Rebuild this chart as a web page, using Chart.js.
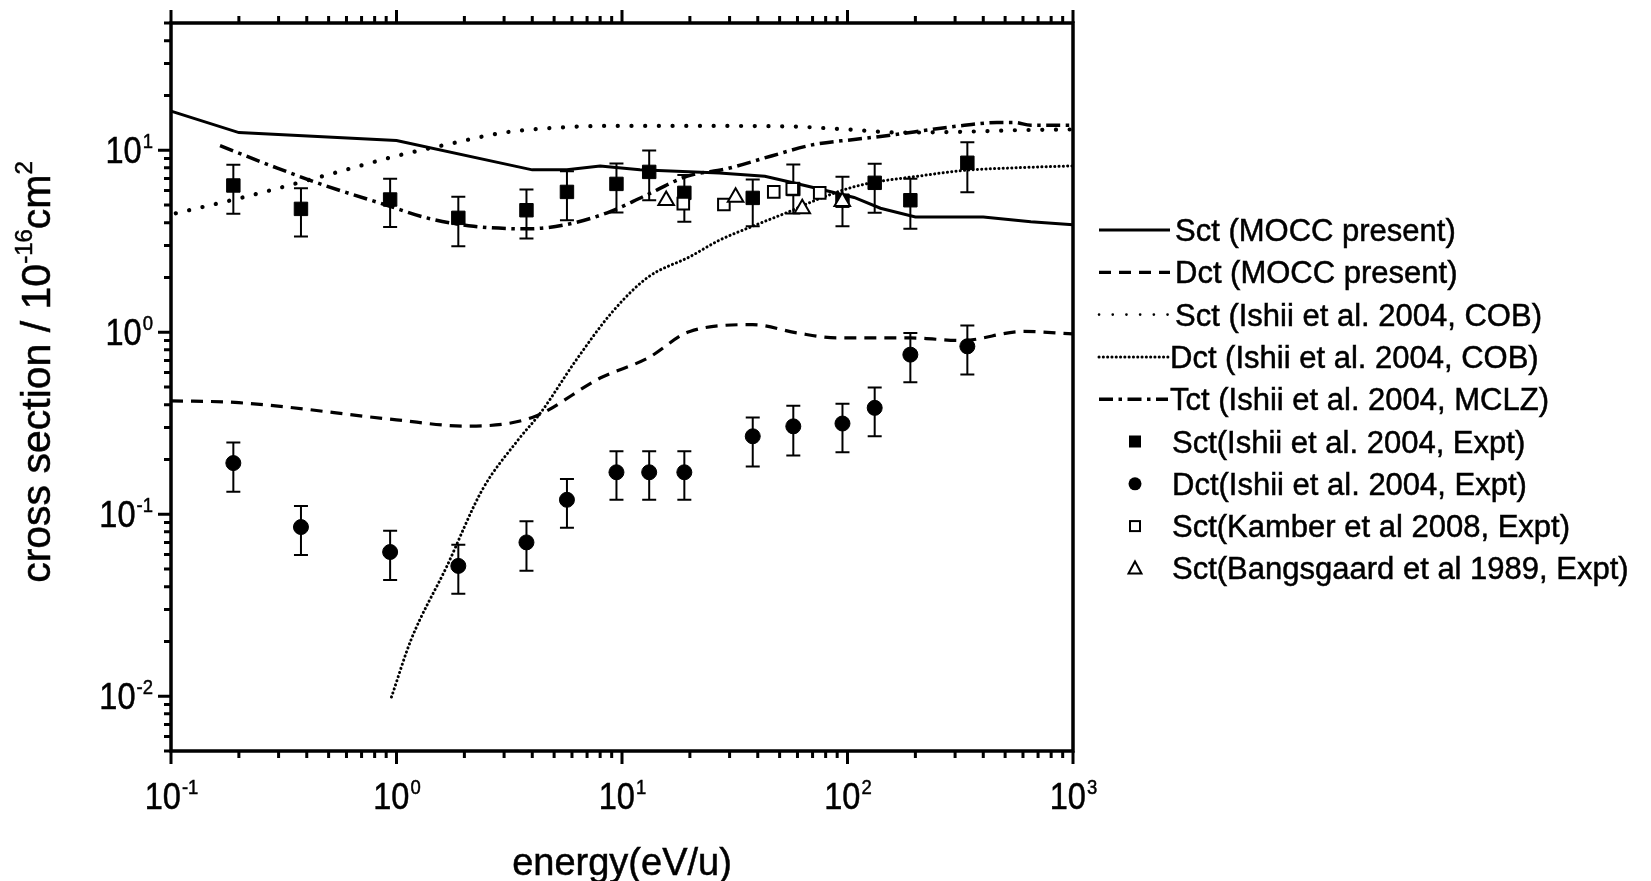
<!DOCTYPE html>
<html>
<head>
<meta charset="utf-8">
<script src="https://cdn.jsdelivr.net/npm/chart.js@4.4.0/dist/chart.umd.min.js"></script>
<style>
body{margin:0;background:#fff}
canvas{display:block}
</style>
</head>
<body>
<canvas id="chart" width="1651" height="881"></canvas>
<script>
// energy in eV/u, cross sections in 1e-16 cm^2
const moccSctE=[0.1,0.2,1.0,4.0,5.7,8.0,12,27,43,58,76,107,140,200,400,650,1000]
const moccSct=[16.4,12.5,11.3,7.8,7.8,8.2,7.8,7.5,7.2,6.6,6.1,5.5,4.8,4.3,4.3,4.05,3.9]

const moccDctE=[0.1,0.2,1.0,2.0,4.0,8.0,13,20,38,60,90,190,320,600,1000]
const moccDct=[0.42,0.41,0.33,0.305,0.34,0.56,0.72,1.01,1.10,0.99,0.93,0.93,0.90,1.01,0.98]

const cobSctE=[0.105,0.22,0.5,1.0,1.7,3.0,5.2,9,20,55,100,170,300,600,1000]
const cobSct=[4.5,5.6,7.35,9.3,10.8,12.5,13.3,13.6,13.6,13.5,13.0,12.5,12.6,12.9,13.0]

const cobDctE=[0.95,1.16,1.67,2.4,3.47,4.35,6.25,9.0,13,20,27,38.5,54,76,107,140,197,330,550,1000]
const cobDct=[0.0099,0.0204,0.0516,0.136,0.257,0.36,0.70,1.28,2.0,2.6,3.2,3.85,4.55,5.45,6.3,6.75,7.15,7.75,8.0,8.2]

const mclzTctE=[0.165,0.294,0.49,0.9,1.36,2.2,3.8,5.7,8.6,12.5,19.5,29,46,71,107,140,197,330,460,550,650,1000]
const mclzTct=[10.6,8.0,6.35,5.0,4.25,3.82,3.70,3.91,4.53,5.58,7.2,7.9,9.3,10.75,11.45,11.9,12.6,13.7,14.2,14.2,13.7,13.7]

const ishiiE=[0.189,0.377,0.937,1.88,3.77,5.7,9.45,13.2,18.9,38,57.5,95,132,190,340]
const ishiiSct=[6.40,4.76,5.36,4.25,4.68,5.90,6.53,7.60,5.83,5.47,6.12,5.28,6.62,5.31,8.53]
const ishiiSctLo=[4.47,3.36,3.79,2.97,3.27,4.12,4.55,5.31,4.04,3.82,4.49,3.82,4.53,3.70,5.87]
const ishiiSctHi=[8.31,6.18,6.98,5.55,6.08,7.67,8.45,9.95,7.30,6.90,8.34,7.14,8.42,6.97,11.07]
const ishiiDct=[0.191,0.085,0.062,0.052,0.070,0.120,0.170,0.170,0.170,0.268,0.304,0.315,0.384,0.753,0.836]
const ishiiDctLo=[0.133,0.0597,0.0435,0.0366,0.0489,0.0843,0.120,0.120,0.120,0.183,0.21,0.219,0.268,0.531,0.585]
const ishiiDctHi=[0.248,0.111,0.081,0.068,0.0916,0.156,0.222,0.222,0.222,0.34,0.394,0.405,0.497,0.99,1.09]

const kamberE=[18.7,28.3,47.1,56.9,75.3]
const kamberSct=[5.09,5.03,5.90,6.13,5.83]

const bangE=[15.7,31.9,63,94.8]
const bangSct=[5.29,5.52,4.77,5.22]

const xExps=[-1,0,1,2,3]
const yExps=[-2,-1,0,1]
const minorSteps=[2,3,4,5,6,7,8,9]

const legendLabels=[
    'Sct (MOCC present)',
    'Dct (MOCC present)',
    'Sct (Ishii et al. 2004, COB)',
    'Dct (Ishii et al. 2004, COB)',
    'Tct (Ishii et al. 2004, MCLZ)',
    'Sct(Ishii et al. 2004, Expt)',
    'Dct(Ishii et al. 2004, Expt)',
    'Sct(Kamber et al 2008, Expt)',
    'Sct(Bangsgaard et al 1989, Expt)'
]

const FONT='"Liberation Sans", Arial, sans-serif'

const styles={
    solid:{dash:[],width:3,cap:'butt'},
    dashed:{dash:[12,8],width:3.2,cap:'butt'},
    dots:{dash:[0.1,13.6],width:4.2,cap:'round'},
    fine:{dash:[0.1,4.2],width:3,cap:'round'},
    dashdot:{dash:[14,5.5,3.5,5.5],width:3.5,cap:'butt'}
}

function pts(xs,ys){
    return xs.map((x,i)=>({x,y:ys[i]}))
}

function curve(label,xs,ys,style,order,smooth){
    const s=styles[style]
    return {
        label,
        data:pts(xs,ys),
        borderColor:'#000',
        borderWidth:s.width,
        borderDash:s.dash,
        borderCapStyle:s.cap,
        pointRadius:0,
        fill:false,
        cubicInterpolationMode:smooth?'monotone':'default',
        tension:0,
        order,
        clip:false
    }
}

function marks(label,xs,ys,shape,radius,fill,order,lo,hi){
    return {
        label,
        data:pts(xs,ys),
        showLine:false,
        pointStyle:shape,
        pointRadius:radius,
        pointBackgroundColor:fill,
        pointBorderColor:'#000',
        pointBorderWidth:fill==='#fff'?2:1,
        order,
        errLo:lo,
        errHi:hi,
        clip:false
    }
}

// text with a hairline stroke so it sits as dark as the scanned figure
function text(ctx,t,x,y){
    ctx.fillText(t,x,y)
    ctx.strokeText(t,x,y)
}

function drawPow(ctx,exp,x,baseline,align){
    const main=37,sup=21,raise=15,sx=0.88
    ctx.font=main+'px '+FONT
    const w1=ctx.measureText('10').width*sx
    ctx.font=sup+'px '+FONT
    const w2=ctx.measureText(String(exp)).width*sx
    const x0=align==='center'?x-(w1+w2)/2:x-(w1+w2)
    ctx.save()
    ctx.textAlign='left'
    ctx.textBaseline='alphabetic'
    ctx.translate(x0,baseline)
    ctx.scale(sx,1)
    ctx.font=main+'px '+FONT
    text(ctx,'10',0,0)
    ctx.font=sup+'px '+FONT
    text(ctx,String(exp),(w1+1)/sx,-raise)
    ctx.restore()
}

const errorBars={
    id:'errorBars',
    beforeDatasetDraw(chart,args){
        const ds=chart.data.datasets[args.index]
        if(!ds.errLo) return
        const {ctx,scales:{x,y}}=chart
        ctx.save()
        ctx.strokeStyle='#000'
        ctx.lineWidth=2
        ctx.beginPath()
        ds.data.forEach((p,i)=>{
            const px=x.getPixelForValue(p.x)
            const y1=y.getPixelForValue(ds.errHi[i])
            const y2=y.getPixelForValue(ds.errLo[i])
            ctx.moveTo(px,y1)
            ctx.lineTo(px,y2)
            ctx.moveTo(px-7,y1)
            ctx.lineTo(px+7,y1)
            ctx.moveTo(px-7,y2)
            ctx.lineTo(px+7,y2)
        })
        ctx.stroke()
        ctx.restore()
    }
}

const axes={
    id:'axes',
    afterDatasetsDraw(chart){
        const {ctx,chartArea:a,scales:{x,y}}=chart
        ctx.save()
        ctx.strokeStyle='#000'
        ctx.fillStyle='#000'
        ctx.lineWidth=3.5
        ctx.strokeRect(a.left,a.top,a.right-a.left,a.bottom-a.top)

        ctx.lineWidth=3
        ctx.beginPath()
        for(const e of xExps){
            const major=Math.pow(10,e)
            const list=[[major,13]]
            if(e<3) minorSteps.forEach(k=>list.push([k*major,7]))
            for(const [v,len] of list){
                const px=x.getPixelForValue(v)
                ctx.moveTo(px,a.bottom)
                ctx.lineTo(px,a.bottom+len)
                ctx.moveTo(px,a.top)
                ctx.lineTo(px,a.top-len)
            }
        }
        const yMinor=[]
        ;[5,6,7,8,9].forEach(k=>yMinor.push(k*0.001))
        for(const e of yExps){
            minorSteps.forEach(k=>{
                const v=k*Math.pow(10,e)
                if(v<=50) yMinor.push(v)
            })
        }
        for(const v of yMinor){
            const py=y.getPixelForValue(v)
            ctx.moveTo(a.left,py)
            ctx.lineTo(a.left-7,py)
        }
        for(const e of yExps){
            const py=y.getPixelForValue(Math.pow(10,e))
            ctx.moveTo(a.left,py)
            ctx.lineTo(a.left-13,py)
        }
        ctx.stroke()

        ctx.lineWidth=0.5
        for(const e of xExps){
            drawPow(ctx,e,x.getPixelForValue(Math.pow(10,e)),809,'center')
        }
        for(const e of yExps){
            drawPow(ctx,e,152,y.getPixelForValue(Math.pow(10,e))+13,'right')
        }

        // axis titles
        ctx.font='38px '+FONT
        ctx.textAlign='center'
        ctx.textBaseline='alphabetic'
        text(ctx,'energy(eV/u)',(a.left+a.right)/2,875)

        ctx.save()
        ctx.translate(50,372)
        ctx.rotate(-Math.PI/2)
        const parts=[['cross section / 10',41,0],['-16',24,18],['cm',41,0],['2',24,18]]
        let total=0
        for(const [t,s] of parts){
            ctx.font=s+'px '+FONT
            total+=ctx.measureText(t).width
        }
        let cx=-total/2
        ctx.textAlign='left'
        for(const [t,s,r] of parts){
            ctx.font=s+'px '+FONT
            text(ctx,t,cx,-r)
            cx+=ctx.measureText(t).width
        }
        ctx.restore()
        ctx.restore()
    },
    afterDraw(chart){
        const ctx=chart.ctx
        const y0=230,rowH=42.3
        const textX=[1175,1175,1175,1170,1170,1172,1172,1172,1172]
        const lineKinds=['solid','dashed','dots','fine','dashdot']
        ctx.save()
        ctx.strokeStyle='#000'
        ctx.fillStyle='#000'
        legendLabels.forEach((label,i)=>{
            const ry=y0+i*rowH
            if(i<5){
                const s=styles[lineKinds[i]]
                ctx.save()
                ctx.setLineDash(s.dash)
                ctx.lineCap=s.cap
                ctx.lineWidth=i===2?2.6:s.width
                ctx.beginPath()
                ctx.moveTo(1099,ry)
                ctx.lineTo(i<3?1170:1168,ry)
                ctx.stroke()
                ctx.restore()
            }else{
                const mx=1135
                ctx.save()
                ctx.lineWidth=2
                ctx.beginPath()
                if(i===5){
                    ctx.fillRect(mx-6,ry-6,12,12)
                }else if(i===6){
                    ctx.arc(mx,ry,6.5,0,Math.PI*2)
                    ctx.fill()
                }else if(i===7){
                    ctx.strokeRect(mx-5,ry-5,10,10)
                }else{
                    ctx.moveTo(mx,ry-7)
                    ctx.lineTo(mx+6.5,ry+5)
                    ctx.lineTo(mx-6.5,ry+5)
                    ctx.closePath()
                    ctx.stroke()
                }
                ctx.restore()
            }
            ctx.font='31px '+FONT
            ctx.textAlign='left'
            ctx.textBaseline='alphabetic'
            ctx.lineWidth=0.5
            text(ctx,label,textX[i],ry+11)
        })
        ctx.restore()
    }
}

new Chart(document.getElementById('chart'),{
    type:'line',
    data:{
        datasets:[
            marks(legendLabels[8],bangE,bangSct,'triangle',9,'#fff',0),
            marks(legendLabels[7],kamberE,kamberSct,'rect',8.2,'#fff',1),
            marks(legendLabels[6],ishiiE,ishiiDct,'circle',7.5,'#000',2,ishiiDctLo,ishiiDctHi),
            marks(legendLabels[5],ishiiE,ishiiSct,'rect',9.5,'#000',3,ishiiSctLo,ishiiSctHi),
            curve(legendLabels[0],moccSctE,moccSct,'solid',4,false),
            curve(legendLabels[1],moccDctE,moccDct,'dashed',5,true),
            curve(legendLabels[2],cobSctE,cobSct,'dots',6,true),
            curve(legendLabels[3],cobDctE,cobDct,'fine',7,true),
            curve(legendLabels[4],mclzTctE,mclzTct,'dashdot',8,true)
        ]
    },
    options:{
        responsive:false,
        devicePixelRatio:1,
        animation:false,
        layout:{padding:{left:171,right:578,top:23,bottom:130}},
        plugins:{legend:{display:false},tooltip:{enabled:false}},
        scales:{
            x:{type:'logarithmic',min:0.1,max:1000,bounds:'data',display:false},
            y:{type:'logarithmic',min:0.005,max:50,bounds:'data',display:false}
        }
    },
    plugins:[errorBars,axes]
})
</script>
</body>
</html>
